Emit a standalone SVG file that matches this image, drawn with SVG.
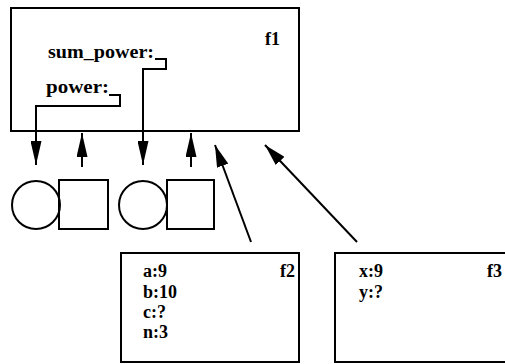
<svg xmlns="http://www.w3.org/2000/svg" width="505" height="364" viewBox="0 0 505 364">
<style>
.box{fill:none;stroke:#000;stroke-width:2}
.ln{fill:none;stroke:#000;stroke-width:2}
.t{font-family:"Liberation Serif",serif;font-weight:bold;font-size:18px;fill:#000}
</style>
<defs>
<marker id="ah" viewBox="0 0 24 11" refX="24" refY="5.5" markerWidth="24" markerHeight="11" markerUnits="userSpaceOnUse" orient="auto">
<path d="M0,0 L24,5.5 L0,11 z" fill="#000"/>
</marker>
<marker id="ahl" viewBox="0 0 22 12" refX="22" refY="6" markerWidth="22" markerHeight="12" markerUnits="userSpaceOnUse" orient="auto">
<path d="M0,0 L22,6 L0,12 z" fill="#000"/>
</marker>
</defs>
<g id="f1">
<rect class="box" x="11" y="8" width="288" height="123"/>
<text class="t" x="265" y="45">f1</text>
<text class="t" x="48" y="58" textLength="106" lengthAdjust="spacingAndGlyphs">sum_power:</text>
<text class="t" x="46" y="93" textLength="63" lengthAdjust="spacingAndGlyphs">power:</text>
</g>
<g id="cells">
<circle class="box" cx="36" cy="205" r="24"/>
<rect class="box" x="59" y="180" width="49" height="49"/>
<circle class="box" cx="143" cy="205" r="24"/>
<rect class="box" x="167" y="180" width="47" height="49"/>
</g>
<g id="f2">
<rect class="box" x="121" y="253" width="178" height="109"/>
<text class="t" x="143" y="277">a:9</text>
<text class="t" x="143" y="298">b:10</text>
<text class="t" x="143" y="318">c:?</text>
<text class="t" x="143" y="338">n:3</text>
<text class="t" x="280" y="277">f2</text>
</g>
<g id="f3">
<rect class="box" x="335" y="253" width="180" height="109"/>
<text class="t" x="359" y="277">x:9</text>
<text class="t" x="359" y="298">y:?</text>
<text class="t" x="487" y="277">f3</text>
</g>
<g id="connectors">
<path class="ln" d="M109,95 H120 V106 H36 V165" marker-end="url(#ah)"/>
<path class="ln" d="M155,59 H166 V69 H143 V165" marker-end="url(#ah)"/>
<path class="ln" d="M82,167 V133" marker-end="url(#ah)"/>
<path class="ln" d="M191,167 V133" marker-end="url(#ah)"/>
<path class="ln" d="M251,242 L215,145" marker-end="url(#ahl)"/>
<path class="ln" d="M357,242 L265,145" marker-end="url(#ahl)"/>
</g>
</svg>
